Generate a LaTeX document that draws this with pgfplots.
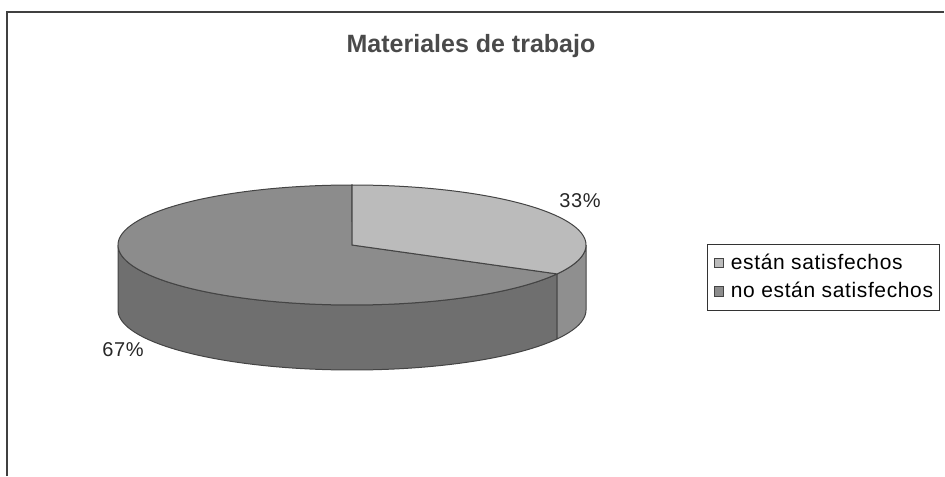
\documentclass[border=0pt]{standalone}
\usepackage{pgfplots}
\pgfplotsset{compat=1.18}
\usepackage{pgfplotstable}
\usepgfplotslibrary{fillbetween}
\usepackage{fontspec}
\setmainfont{Liberation Sans}
\definecolor{toplight}{HTML}{BBBBBB}
\definecolor{topdark}{HTML}{8C8C8C}
\definecolor{sidelight}{HTML}{8F8F8F}
\definecolor{sidedark}{HTML}{6F6F6F}
\definecolor{edge}{HTML}{444444}
\definecolor{titlec}{HTML}{4A4A4A}

\pgfplotstableread{
label value
1 33
2 67
}\piedata
\pgfplotstablegetelem{0}{value}\of\piedata \let\va\pgfplotsretval
\pgfplotstablegetelem{1}{value}\of\piedata \let\vb\pgfplotsretval

% pie geometry (pixel units of the reference)
\def\cx{352}\def\cy{245}\def\rx{234}\def\ry{60}\def\dd{65}
\pgfmathsetmacro\ab{90-\va/(\va+\vb)*360}
\pgfmathsetmacro\ae{\ab-\vb/(\va+\vb)*360}

\begin{document}
\begin{tikzpicture}
\begin{axis}[
  width=472.5pt, height=238pt, scale only axis,
  xmin=0, xmax=945, ymin=0, ymax=476, y dir=reverse,
  hide axis, clip=false,
  legend style={at={(axis cs:707,244)}, anchor=north west, draw=black!80,
    line width=0.5pt, font=\fontsize{10.5}{12}\selectfont\addfontfeatures{LetterSpace=3}, inner xsep=2pt, inner ysep=3.5pt,
    row sep=2.5pt, nodes={inner sep=1.2pt}},
  legend cell align=left,
  legend image code/.code={\draw[#1, line width=0.4pt] (1.2pt,-2.3pt) rectangle (5.8pt,2.3pt); \path (0pt,0pt) (8pt,0pt);},
]
% frame
\draw[black!75, line width=1pt] (axis cs:7,476) -- (axis cs:7,12) -- (axis cs:944,12);

% side of the dark slice
\addplot[draw=none, forget plot, name path=dtop, domain=-180:\ab, samples=90]
  ({\cx+\rx*cos(x)},{\cy-\ry*sin(x)});
\addplot[draw=none, forget plot, name path=dbot, domain=-180:\ab, samples=90]
  ({\cx+\rx*cos(x)},{\cy-\ry*sin(x)+\dd});
\addplot[fill=sidedark, draw=edge, line width=0.5pt, forget plot] fill between[of=dtop and dbot];
% side of the light slice
\addplot[draw=none, forget plot, name path=ltop, domain=\ab:0, samples=30]
  ({\cx+\rx*cos(x)},{\cy-\ry*sin(x)});
\addplot[draw=none, forget plot, name path=lbot, domain=\ab:0, samples=30]
  ({\cx+\rx*cos(x)},{\cy-\ry*sin(x)+\dd});
\addplot[fill=sidelight, draw=edge, line width=0.5pt, forget plot] fill between[of=ltop and lbot];

% top faces
\addplot[fill=topdark, draw=edge, line width=0.5pt, forget plot, domain=\ae:\ab, samples=150]
  ({\cx+\rx*cos(x)},{\cy-\ry*sin(x)}) -- (axis cs:\cx,\cy) -- cycle;
\addplot[fill=toplight, draw=edge, line width=0.5pt, forget plot, domain=\ab:90, samples=80]
  ({\cx+\rx*cos(x)},{\cy-\ry*sin(x)}) -- (axis cs:\cx,\cy) -- cycle;

% labels
\node[font=\fontsize{10}{12}\selectfont\addfontfeatures{LetterSpace=3}, text=black!85] at (axis cs:580,201) {\va\%};
\node[font=\fontsize{10}{12}\selectfont\addfontfeatures{LetterSpace=3}, text=black!85] at (axis cs:123,350) {\vb\%};

% title
\node[font=\fontsize{12.5}{15}\selectfont\bfseries, text=titlec] at (axis cs:471,46) {Materiales de trabajo};

\addlegendimage{fill=toplight, draw=edge}
\addlegendentry{están satisfechos}
\addlegendimage{fill=topdark, draw=edge}
\addlegendentry{no están satisfechos}
\end{axis}
\pgfresetboundingbox
\path (current axis.south west) rectangle (current axis.north east);
\end{tikzpicture}
\end{document}
